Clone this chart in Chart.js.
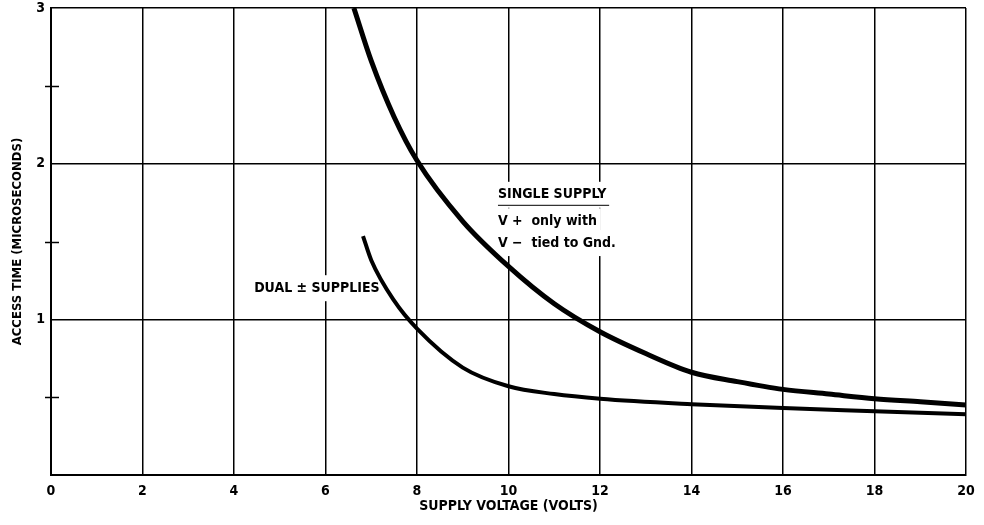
<!DOCTYPE html>
<html>
<head>
<meta charset="utf-8">
<script src="https://cdn.jsdelivr.net/npm/chart.js@4"></script>
<style>
  html, body { margin: 0; padding: 0; background: #fff; }
  #wrap { width: 984px; height: 525px; }
</style>
</head>
<body>
<div id="wrap"><canvas id="chart" width="984" height="525"></canvas></div>
<script>
// supply voltage (volts) vs access time (microseconds)
const singleX = [6.62, 7, 7.5, 8, 9, 10, 11, 12, 13, 14, 15, 16, 17, 18, 19, 20];
const singleY = [3.0, 2.66, 2.3, 2.02, 1.63, 1.34, 1.1, 0.92, 0.78, 0.66, 0.6, 0.55, 0.52, 0.49, 0.47, 0.45];
const dualX = [6.82, 7, 7.5, 8, 9, 10, 11, 12, 14, 16, 18, 20];
const dualY = [1.535, 1.38, 1.12, 0.94, 0.69, 0.57, 0.52, 0.49, 0.455, 0.43, 0.41, 0.39];
const xTicks = [0, 2, 4, 6, 8, 10, 12, 14, 16, 18, 20];
const yTicks = [0, 1, 2, 3];
const yMinor = [0.5, 1.5, 2.5];

const FONT = '"DejaVu Sans Condensed", "DejaVu Sans", sans-serif';

// text notes placed in data units
const notes = [
    { text: 'SINGLE SUPPLY', x: 9.77, y: 1.80, underlineTo: 12.2 },
    { text: 'V +  only with', x: 9.77, y: 1.63 },
    { text: 'V \u2212  tied to Gnd.', x: 9.77, y: 1.49 },
    { text: 'DUAL \u00b1 SUPPLIES', x: 4.44, y: 1.20 }
];

const toPoints = (xs, ys) => xs.map((x, i) => ({ x: x, y: ys[i] }));

const extras = {
    id: 'extras',
    beforeDatasetsDraw(chart) {
        const ctx = chart.ctx;
        const xs = chart.scales.x, ys = chart.scales.y;
        ctx.save();
        ctx.font = 'condensed bold 14px ' + FONT;
        ctx.textBaseline = 'middle';
        notes.forEach(n => {
            const px = xs.getPixelForValue(n.x);
            const py = ys.getPixelForValue(n.y);
            const w = ctx.measureText(n.text).width;
            ctx.fillStyle = '#fff';
            ctx.fillRect(px - 4, py - 13, w + 8, 26);
        });
        ctx.fillStyle = '#000';
        notes.forEach(n => {
            const px = xs.getPixelForValue(n.x);
            const py = ys.getPixelForValue(n.y);
            ctx.fillText(n.text, px, py);
            if (n.underlineTo) {
                ctx.beginPath();
                ctx.lineWidth = 1;
                ctx.strokeStyle = '#000';
                ctx.moveTo(px, py + 10.5);
                ctx.lineTo(xs.getPixelForValue(n.underlineTo), py + 10.5);
                ctx.stroke();
            }
        });
        // short marks across the left axis at the half units
        ctx.lineWidth = 1.5;
        ctx.strokeStyle = '#000';
        yMinor.forEach(v => {
            const py = Math.round(ys.getPixelForValue(v)) + 0.5;
            ctx.beginPath();
            ctx.moveTo(xs.left - 6, py);
            ctx.lineTo(xs.left + 8, py);
            ctx.stroke();
        });
        ctx.restore();
    }
};

new Chart(document.getElementById('chart'), {
    type: 'line',
    data: {
        datasets: [
            {
                label: 'Single supply',
                data: toPoints(singleX, singleY),
                borderColor: '#000',
                borderWidth: 5,
                pointRadius: 0,
                cubicInterpolationMode: 'monotone'
            },
            {
                label: 'Dual supplies',
                data: toPoints(dualX, dualY),
                borderColor: '#000',
                borderWidth: 4,
                pointRadius: 0,
                cubicInterpolationMode: 'monotone'
            }
        ]
    },
    options: {
        responsive: false,
        animation: false,
        layout: { padding: { top: 8, right: 18, left: 10, bottom: 10 } },
        plugins: { legend: { display: false }, tooltip: { enabled: false } },
        scales: {
            x: {
                type: 'linear',
                min: 0,
                max: 20,
                afterBuildTicks: s => { s.ticks = xTicks.map(v => ({ value: v })); },
                afterFit: s => { s.height = 40; s.paddingLeft = 0; s.paddingRight = 0; },
                grid: { color: '#000', lineWidth: 1.5, drawTicks: false },
                border: { color: '#000', width: 2 },
                ticks: {
                    color: '#000',
                    padding: 8,
                    font: { family: FONT, size: 14, weight: 'bold', style: 'condensed' }
                },
                title: {
                    display: true,
                    text: 'SUPPLY VOLTAGE (VOLTS)',
                    color: '#000',
                    padding: { top: 0, bottom: 0 },
                    font: { family: FONT, size: 14, weight: 'bold', style: 'condensed' }
                }
            },
            y: {
                type: 'linear',
                min: 0,
                max: 3,
                afterBuildTicks: s => { s.ticks = yTicks.map(v => ({ value: v })); },
                afterFit: s => { s.width = 41; s.paddingTop = 0; s.paddingBottom = 0; },
                grid: { color: '#000', lineWidth: 1.5, drawTicks: false },
                border: { color: '#000', width: 2 },
                ticks: {
                    color: '#000',
                    padding: 6,
                    callback: v => v === 0 ? '' : v,
                    font: { family: FONT, size: 14, weight: 'bold', style: 'condensed' }
                },
                title: {
                    display: true,
                    text: 'ACCESS TIME (MICROSECONDS)',
                    color: '#000',
                    padding: 0,
                    font: { family: FONT, size: 13, weight: 'bold', style: 'condensed' }
                }
            }
        }
    },
    plugins: [extras]
});
</script>
</body>
</html>
